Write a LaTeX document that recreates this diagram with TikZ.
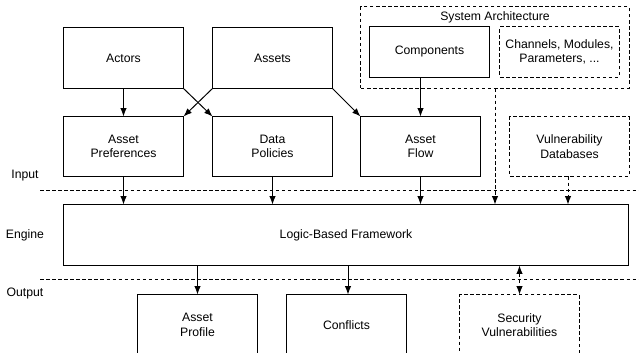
\documentclass[tikz,border=0pt]{standalone}
\usepackage{fontspec}
\setmainfont{Liberation Sans}
\usetikzlibrary{positioning, arrows, arrows.meta}
\tikzset{>={Latex[length=2.1mm, width=1.6mm]}}
\tikzset{
    block/.style = {rectangle, draw, line width=0.7pt, minimum width=2.975cm,
                        minimum height=1.5cm, align=center, inner sep=0pt},
    dblock/.style = {block, dash pattern=on 2.5pt off 1.8pt},
    dline/.style = {dash pattern=on 2.5pt off 1.8pt},
    layer/.style = {align=center}
}

\begin{document}
\begin{tikzpicture}[x=0.025cm, y=-0.025cm, line width=0.7pt, font=\fontsize{8.7}{10.3}\selectfont]
		\clip (0,0) rectangle (639,353);
		% input layer
		\node (actors) [block] at (123.5,58) {Actors};
		\node (assets) [block] at (272.5,58) {Assets};
		\node (sysarch) [dblock, minimum width=6.7cm, minimum height=2.025cm] at (495,47.5) {};
		\node (sysarchtitle) at (495,17) {System Architecture};
		\node (components) [block, minimum height=1.25cm] at (429.5,52) {Components};
		\node (channels) [dblock, minimum height=1.25cm] at (559.5,52) {Channels, Modules,\\Parameters, ...};
		\node (pref) [block, minimum height=1.475cm] at (123.5,146.5) {Asset\\Preferences};
		\node (policies) [block, minimum height=1.475cm] at (272.5,146.5) {Data\\Policies};
		\node (flow) [block, minimum height=1.475cm] at (420.5,146.5) {Asset\\Flow};
		\node (vulndb) [dblock, minimum height=1.475cm] at (569.5,146.5) {Vulnerability\\Databases};
		% engine and output
		\node (framework) [block, minimum width=14.1cm] at (346,235) {Logic-Based Framework};
		\node (profile) [block] at (197.5,325) {Asset\\Profile};
		\node (conflicts) [block] at (346.5,325) {Conflicts};
		\node (secvuln) [dblock] at (519.5,325) {Security\\Vulnerabilities};
		% layer labels and separators
		\node (input) [layer] at (25,176) {Input};
		\node (engine) [layer] at (25,235) {Engine};
		\node (output) [layer] at (25,294) {Output};
		\coordinate (sepa) at (40,190);
		\coordinate (sepb) at (40,279);
		\draw [dline] (sepa) -- ++(600,0);
		\draw [dline] (sepb) -- ++(600,0);
		% connectors
		\draw [->] (actors) to (pref);
		\draw [->] (actors.south east) to (policies.north west);
		\draw [->] (assets.south west) to (pref.north east);
		\draw [->] (assets.south east) to (flow.north west);
		\draw [->] (components.south -| flow.north) to (flow.north);
		\draw [->] (pref) to (pref.south |- framework.north);
		\draw [->] (policies) to (policies.south |- framework.north);
		\draw [->] (flow) to (flow.south |- framework.north);
		\draw [->, dline] (sysarch.south) to (sysarch.south |- framework.north);
		\draw [->, dline] (vulndb.south -| 568,0) to (framework.north -| 568,0);
		\draw [->] (framework.south -| profile.north) to (profile.north);
		\draw [->] (framework.south -| 348,0) to (conflicts.north -| 348,0);
		\draw [<->, dline] (framework.south -| secvuln.north) to (secvuln.north);
	\end{tikzpicture}
\end{document}
